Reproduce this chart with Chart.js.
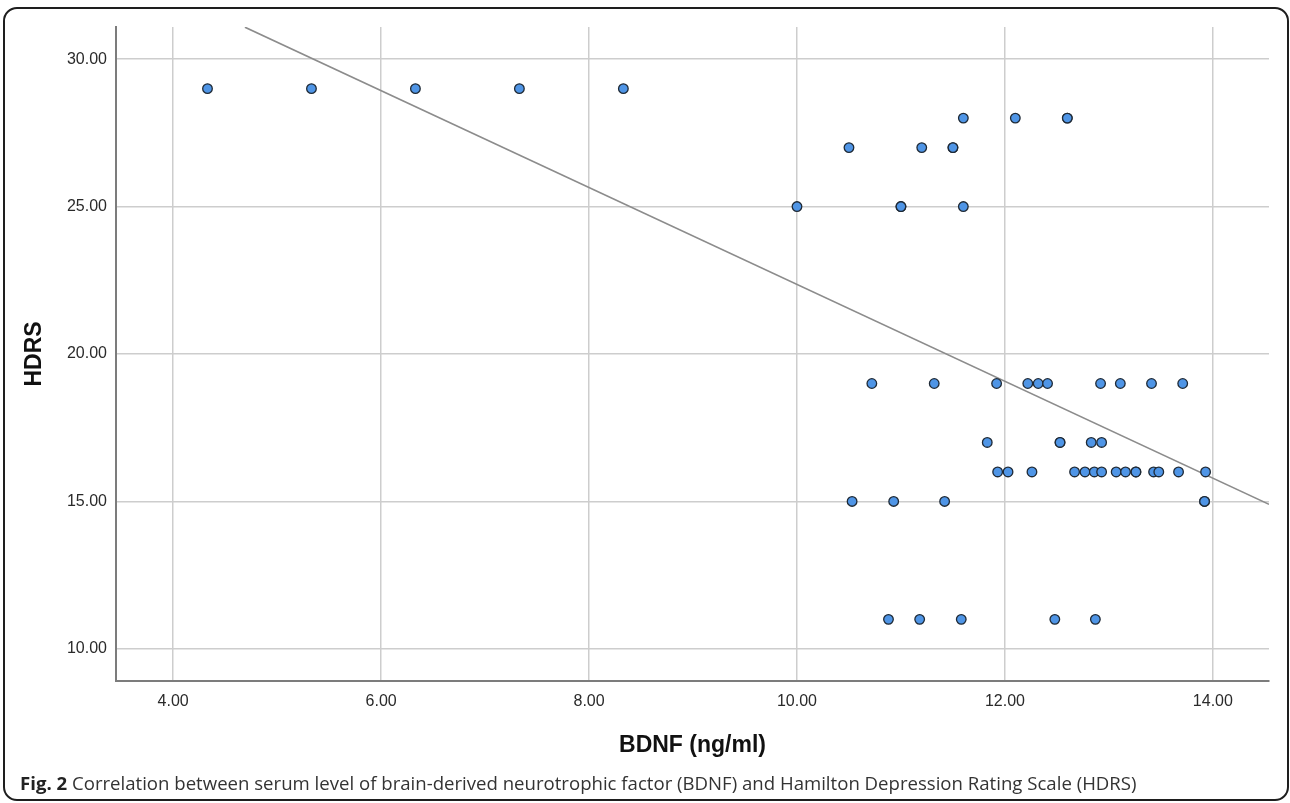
<!DOCTYPE html>
<html>
<head>
<meta charset="utf-8">
<script src="https://cdn.jsdelivr.net/npm/chart.js@4/dist/chart.umd.min.js"></script>
<style>
  html, body { margin: 0; padding: 0; background: #fff; }
  #wrap { position: relative; width: 1290px; height: 803px; overflow: hidden; }
  #c { position: absolute; left: 0; top: 0; }
  #frame { position: absolute; left: 3px; top: 7px; width: 1282px; height: 790px; border: 2px solid #1e1e1e; border-radius: 14px; pointer-events: none; }
  #caption { position: absolute; left: 20px; top: 770px; font-family: 'Open Sans', sans-serif; font-size: 18.6px; line-height: 25px; color: #333; white-space: nowrap; }
  #caption b { font-weight: 700; color: #222; }
</style>
</head>
<body>
<div id="wrap">
  <canvas id="c" width="1290" height="803"></canvas>
  <div id="frame"></div>
  <div id="caption"><b>Fig. 2</b> Correlation between serum level of brain-derived neurotrophic factor (BDNF) and Hamilton Depression Rating Scale (HDRS)</div>
</div>
<script>
// BDNF (ng/ml) values
const bdnf = [
  4.33, 5.33, 6.33, 7.33, 8.33,
  11.60, 12.10, 12.60, 12.60,
  10.50, 11.20, 11.50, 11.50,
  10.00, 11.00, 11.00, 11.60,
  10.72, 11.32, 11.92, 12.22, 12.32, 12.41, 12.92, 13.11, 13.41, 13.71,
  11.83, 12.53, 12.53, 12.83, 12.93,
  11.93, 12.03, 12.26, 12.67, 12.77, 12.86, 12.93, 13.07, 13.16, 13.26, 13.26, 13.43, 13.48, 13.67, 13.93,
  10.53, 10.93, 11.42, 13.92, 13.92,
  10.88, 11.18, 11.58, 12.48, 12.87
];
// HDRS scores
const hdrs = [
  29, 29, 29, 29, 29,
  28, 28, 28, 28,
  27, 27, 27, 27,
  25, 25, 25, 25,
  19, 19, 19, 19, 19, 19, 19, 19, 19, 19,
  17, 17, 17, 17, 17,
  16, 16, 16, 16, 16, 16, 16, 16, 16, 16, 16, 16, 16, 16, 16,
  15, 15, 15, 15, 15,
  11, 11, 11, 11, 11
];
// Linear fit
const fitSlope = -1.643;
const fitIntercept = 38.79;
const fitRange = [4.69, 14.54];
// Tick labels
const xTicks = [4, 6, 8, 10, 12, 14];
const yTicks = [10, 15, 20, 25, 30];
const xRange = [3.45, 14.54];
const yRange = [8.91, 31.09];

const points = bdnf.map((x, i) => ({ x: x, y: hdrs[i] }));
const fitLine = fitRange.map(x => ({ x: x, y: fitIntercept + fitSlope * x }));

const tickFont = { family: "'Liberation Sans', Arial, sans-serif", size: 16 };
const titleFont = { family: "'Liberation Sans', Arial, sans-serif", size: 23, weight: 'bold' };

new Chart(document.getElementById('c'), {
  type: 'scatter',
  data: {
    datasets: [
      {
        type: 'line',
        data: fitLine,
        borderColor: '#8c8c8c',
        borderWidth: 1.6,
        pointRadius: 0,
        fill: false,
        order: 2
      },
      {
        data: points,
        backgroundColor: '#4f95e6',
        borderColor: '#1f2a36',
        borderWidth: 1.3,
        pointRadius: 4.8,
        order: 1
      }
    ]
  },
  options: {
    responsive: false,
    animation: false,
    layout: { padding: { top: 27, right: 21, left: 0, bottom: 0 } },
    plugins: { legend: { display: false }, tooltip: { enabled: false } },
    scales: {
      x: {
        type: 'linear',
        min: xRange[0], max: xRange[1],
        afterBuildTicks: s => { s.ticks = xTicks.map(v => ({ value: v })); },
        afterFit: s => { s.height = 122; },
        grid: { color: '#cdcdcd', lineWidth: 1.5, drawTicks: false },
        border: { color: '#7c7c7c', width: 2 },
        ticks: { padding: 11, color: '#2a2a2a', font: tickFont, callback: v => Number(v).toFixed(2), maxRotation: 0 },
        title: { display: true, text: 'BDNF (ng/ml)', color: '#111', font: titleFont, padding: { top: 0, bottom: 44 } }
      },
      y: {
        type: 'linear',
        min: yRange[0], max: yRange[1],
        afterBuildTicks: s => { s.ticks = yTicks.map(v => ({ value: v })); },
        afterFit: s => { s.width = 116; },
        grid: { color: '#cdcdcd', lineWidth: 1.5, drawTicks: false },
        border: { color: '#7c7c7c', width: 2 },
        ticks: { padding: 9, color: '#2a2a2a', font: tickFont, callback: v => Number(v).toFixed(2) },
        title: { display: true, text: 'HDRS', color: '#111', font: titleFont, padding: { top: 21, bottom: 0 } }
      }
    }
  }
});
</script>
</body>
</html>
